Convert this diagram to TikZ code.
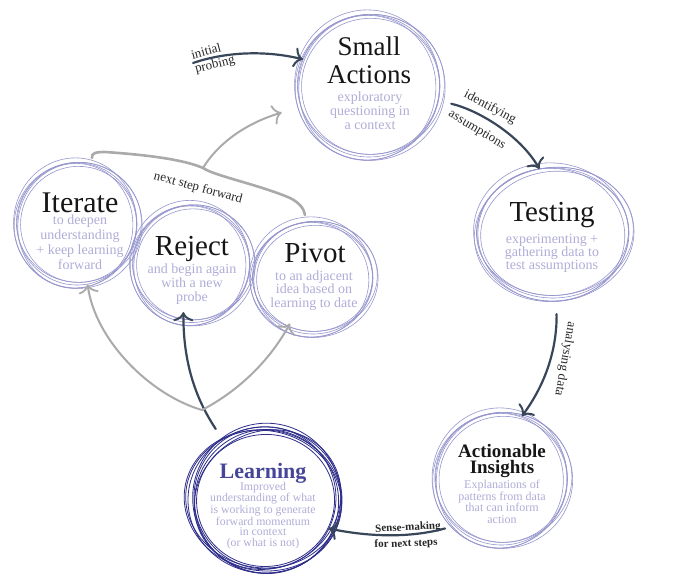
\documentclass[tikz,border=0pt]{standalone}
\usepackage{fontspec}
\setmainfont{Liberation Serif}
\usetikzlibrary{arrows.meta,calc,shapes.geometric}
\definecolor{ringc}{RGB}{150,150,206}
\definecolor{subc}{RGB}{176,173,216}
\definecolor{learnc}{RGB}{46,46,138}
\definecolor{learnt}{RGB}{70,70,152}
\definecolor{darkarr}{RGB}{56,70,90}
\definecolor{grayarr}{RGB}{170,170,170}
\definecolor{titc}{RGB}{22,22,22}
\definecolor{lblc}{RGB}{40,40,40}
\tikzset{
  hub/.style 2 args={ellipse, inner sep=0pt, minimum width=#1, minimum height=#2},
  ttl/.style={text=titc, align=center, inner sep=0pt},
  subt/.style={text=subc, align=center, inner sep=0pt},
  lbl/.style={font=\fontsize{13}{14}\selectfont, text=lblc, inner sep=0pt},
  lblb/.style={font=\fontsize{11}{12}\selectfont\bfseries, text=lblc, inner sep=0pt},
  ringline/.style={draw=ringc, line width=0.6pt},
  learnline/.style={draw=learnc, line width=0.8pt},
  darkarrow/.style={draw=darkarr, line width=2.2pt, line cap=round,
    -{Computer Modern Rightarrow[length=9pt,width=20pt,line width=2pt]}},
  grayarrow/.style={draw=grayarr, line width=2pt, line cap=round,
    -{Computer Modern Rightarrow[length=9pt,width=20pt,line width=1.8pt]}},
  bracestyle/.style={draw=grayarr, line width=2.6pt, line cap=round},
}
\newcommand{\sketchring}[4]{%
  \foreach \dx/\dy/\ex/\ey/\rot in {0/0/0/0/0, 2/-1.5/2.5/-1/4, -1.5/2/-2.5/1.5/-5, 1/1.5/4/2/7, -2/-1/1.5/4/-3, 1.5/0.5/-2/-3/6}
  {\draw[#4, shift={(#1)}, rotate=\rot] (\dx,\dy) ellipse [x radius={#2+\ex}, y radius={#3+\ey}];}
}
\newcommand{\learnring}[4]{%
  \foreach \dx/\dy/\ex/\ey/\rot in {0/0/0/0/0, 2/-1.5/-3/2/10, -2/1/2/-3/-12, 1/2/-5/-1/20, -1.5/-1/1/-4/-6, 2.5/1/-2/-5/30, -1/-2/-6/-2/-25, 0.5/0.5/-8/-7/5}
  {\draw[#4, shift={(#1)}, rotate=\rot] (\dx,\dy) ellipse [x radius={#2+\ex}, y radius={#3+\ey}];}
}
\begin{document}
\begin{tikzpicture}[x=1pt,y=-1pt]
\fill[white] (0,0) rectangle (680,587);
\useasboundingbox (0,0) rectangle (680,587);

% hubs
\node[hub={142pt}{142pt}] (sa) at (369,86) {};
\node[hub={152pt}{130pt}] (te) at (553,233) {};
\node[hub={132pt}{132pt}] (ai) at (501.5,479) {};
\node[hub={154pt}{146pt}] (le) at (265,500) {};
\node[hub={120pt}{122pt}] (it) at (77,224) {};
\node[hub={117pt}{117pt}] (rj) at (191.5,264) {};
\node[hub={120pt}{112pt}] (pv) at (313,278) {};

% rings
\sketchring{sa}{71}{71}{ringline}
\sketchring{te}{76}{65}{ringline}
\sketchring{ai}{66}{66}{ringline}
\sketchring{it}{60}{61}{ringline}
\sketchring{rj}{58.5}{58.5}{ringline}
\sketchring{pv}{60}{56}{ringline}
\learnring{le}{77}{73}{learnline}

% texts
\node[ttl, font=\fontsize{27}{28}\selectfont] (sat) at (369,60) {Small\\Actions};
\node[subt, font=\fontsize{14}{14}\selectfont] (sas) at (370,111) {exploratory\\questioning in\\a context};
\node[ttl, font=\fontsize{29}{30}\selectfont] (tet) at (552,215.3) {Testing};
\node[subt, font=\fontsize{14}{13}\selectfont] (tes) at (552,253.7) {experimenting +\\gathering data to\\test assumptions};
\node[ttl, font=\fontsize{30}{30}\selectfont] (itt) at (80,202.7) {Iterate};
\node[subt, font=\fontsize{14}{15}\selectfont] (its) at (80,242.7) {to deepen\\understanding\\+ keep learning\\forward};
\node[ttl, font=\fontsize{29}{30}\selectfont] (rjt) at (192,249) {Reject};
\node[subt, font=\fontsize{14}{14}\selectfont] (rjs) at (192,283.7) {and begin again\\with a new\\probe};
\node[ttl, font=\fontsize{29}{30}\selectfont] (pvt) at (315,253) {Pivot};
\node[subt, font=\fontsize{14}{13.5}\selectfont] (pvs) at (314,290.2) {to an adjacent\\idea based on\\learning to date};
\node[ttl, font=\fontsize{19}{16}\selectfont\bfseries] (ait) at (502,460.5) {Actionable\\Insights};
\node[subt, font=\fontsize{12}{11.5}\selectfont] (ais) at (502,502) {Explanations of\\patterns from data\\that can inform\\action};
\node[ttl, text=learnt, font=\fontsize{22}{24}\selectfont\bfseries] (let) at (263,473) {Learning};
\node[subt, font=\fontsize{11.8}{10.4}\selectfont] (les) at (263,515.3) {Improved\\understanding of what\\is working to generate\\forward momentum\\in context\\(or what is not)};

% labels
\node[lbl, rotate=15] (l1) at (206,51) {initial};
\node[lbl, rotate=14] (l2) at (215,65) {probing};
\node[lbl, rotate=-28] (l3) at (490,107.5) {identifying};
\node[lbl, rotate=-31] (l4) at (477,130) {assumptions};
\node[lbl, rotate=-100] (l5) at (565,359) {analysing data};
\node[lblb, rotate=3] (l6) at (408,528) {Sense-making};
\node[lblb, rotate=2] (l7) at (406,544) {for next steps};
\node[lbl, rotate=-15] (l8) at (198,188) {next step forward};

% cycle arrows
\coordinate (ip) at (193,63);
\draw[darkarrow] (ip) .. controls (225,52) and (265,50) .. (sa.158);
\draw[darkarrow, shorten <=13pt] (sa.-12) .. controls (478,110) and (520,135) .. (te.102);
\draw[darkarrow, shorten <=16pt] (te.-87) .. controls (557,350) and (545,385) .. (ai.72);
\draw[darkarrow, shorten <=10pt, shorten >=-7pt] (ai.-135) .. controls (410,538) and (370,537) .. (le.-23);
\draw[darkarrow, shorten <=12pt, shorten >=-10pt] (le.125) .. controls (200,405) and (183,370) .. (rj.-98);

% gray arrows
\coordinate (fork) at (202,410);
\draw[grayarrow] (fork) .. controls (150,395) and (95,340) .. (it.-80);
\draw[grayarrow, shorten >=-6pt] (fork) .. controls (240,390) and (270,360) .. (pv.-117);

% brace
\coordinate (cusp) at (203,168);
\draw[bracestyle] (92,158) .. controls (91,153) and (96,152) .. (105,152)
   .. controls (150,155) and (185,160) .. (cusp)
   .. controls (215,176) and (260,185) .. (290,198)
   .. controls (300,203) and (304,209) .. (305,215);
\draw[grayarrow, shorten >=20pt] (cusp) .. controls (215,148) and (240,125) .. (sa.-163);
\end{tikzpicture}
\end{document}
